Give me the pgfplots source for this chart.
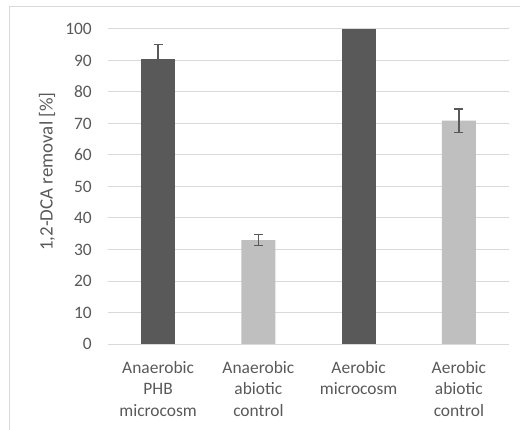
\documentclass[border=0pt]{standalone}
\usepackage{pgfplots}
\pgfplotsset{compat=1.18}
\usepackage{fontspec}
\setmainfont{Carlito}
\definecolor{darkbar}{HTML}{595959}
\definecolor{lightbar}{HTML}{BFBFBF}
\definecolor{gridc}{HTML}{D9D9D9}
\definecolor{txt}{HTML}{595959}
\begin{document}
\begin{tikzpicture}
\path[use as bounding box] (-108bp,-86bp) rectangle (412bp,344bp);
\draw[gridc, line width=1bp] (-98bp,-100bp) -- (-98bp,337bp) -- (430bp,337bp);
\begin{axis}[
  at={(0,0)}, anchor=south west,
  scale only axis, width=401bp, height=315bp,
  xmin=-0.5, xmax=3.5, ymin=0, ymax=100,
  axis line style={draw=none},
  ytick={0,10,...,100},
  xtick={0,1,2,3},
  xticklabels={Anaerobic\\PHB\\microcosm, Anaerobic\\abiotic\\control, Aerobic\\microcosm, Aerobic\\abiotic\\control},
  major tick length=0pt,
  ymajorgrids, grid style={gridc, line width=1bp},
  tick label style={font=\fontsize{17.5}{21.5}\selectfont, text=txt},
  /pgf/number format/assume math mode=true,
  yticklabel style={anchor=east, inner sep=0pt, xshift=-16bp},
  xticklabel style={anchor=north, align=center, inner sep=0pt, yshift=-17bp},
  bar width=34bp,
  clip=false,
]
\addplot[ybar, fill=darkbar, draw=none, bar shift=0pt]
  coordinates {(2,100)};
\addplot[ybar, fill=darkbar, draw=none, bar shift=0pt,
  error bars/.cd, y dir=both, y explicit,
  error bar style={txt, line width=1.3bp},
  error mark options={rotate=90, mark size=4.5bp, line width=1.3bp, txt}]
  coordinates {(0,90.5) +- (0,4.6)};
\addplot[ybar, fill=lightbar, draw=none, bar shift=0pt,
  error bars/.cd, y dir=both, y explicit,
  error bar style={txt, line width=1.3bp},
  error mark options={rotate=90, mark size=4.5bp, line width=1.3bp, txt}]
  coordinates {(1,33.0) +- (0,1.7) (3,70.9) +- (0,3.7)};
\draw[gridc, line width=1bp] (axis cs:-0.5,0) -- (axis cs:3.5,0);
\end{axis}
\node[rotate=90, text=txt, font=\fontsize{19}{23}\selectfont, inner sep=0pt] at (-61bp,172.5bp) {1,2-DCA removal [\%]};
\end{tikzpicture}
\end{document}
